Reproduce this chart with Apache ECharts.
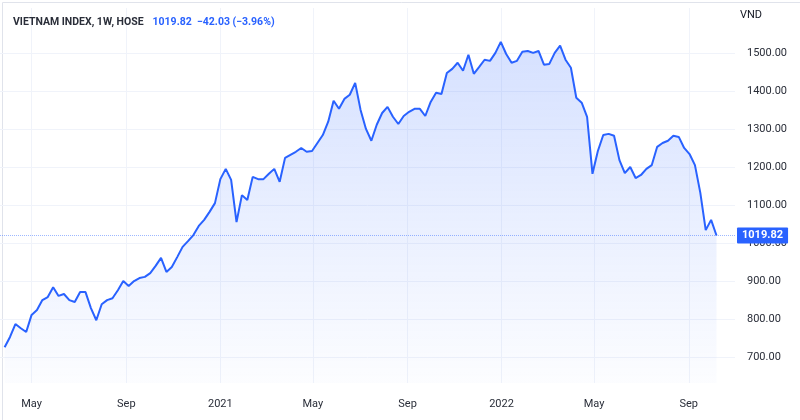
<!DOCTYPE html>
<html><head><meta charset="utf-8">
<script src="https://cdn.jsdelivr.net/npm/echarts@6/dist/echarts.min.js"></script>
<style>html,body{margin:0;padding:0;background:#fff}#c{width:800px;height:420px}</style>
</head><body><div id="c"></div>
<script>
const startDate = '2020-03-27';
const values = [726,753,787,776,766,811,824,850,858,884,861,866,850,845,871,871,829,797,839,850,855,876,900,887,900,908,911,921,940,961,924,937,963,990,1005,1021,1045,1061,
1082,1105,1168,1195,1166,1055,1126,1113,1174,1168,1168,1182,1195,1161,1224,1232,1240,1250,1240,1242,1263,1284,1319,1374,1353,1379,1390,1421,1350,1300,1269,1311,1342,1358,1332,1313,1334,1345,1353,1353,1334,1371,1395,
1392,1447,1458,1474,1453,1495,1445,1463,1482,1479,1500,1529,1497,1474,1479,1503,1505,1500,1505,1469,1471,1500,1519,1482,1461,1382,1369,1332,1182,1242,1284,1287,1282,1218,1184,1200,1171,1179,1195,1205,1253,1263,1269,1282,1279,1250,1234,1205,1132,1034,1061,1019.82];
const yTicks = [700,800,900,1000,1100,1200,1300,1400,1500];
const xTicks = ['2020-05-01','2020-09-01','2021-01-01','2021-05-01','2021-09-01','2022-01-01','2022-05-01','2022-09-01'];
const lastValue = 1019.82;

const t0 = new Date(startDate + 'T00:00:00Z').getTime();
const data = values.map((v,i)=>[t0 + i*7*86400000, v]);
const xTickTs = xTicks.map(d=>new Date(d+'T00:00:00Z').getTime());
const months = ['Jan','Feb','Mar','Apr','May','Jun','Jul','Aug','Sep','Oct','Nov','Dec'];
const blue = '#2962FF', txt = '#131722';
const chart = echarts.init(document.getElementById('c'));
chart.setOption({
  animation:false,
  textStyle:{fontFamily:'Roboto, "Noto Sans", sans-serif'},
  title:{left:8,top:8,text:'{a|VIETNAM INDEX, 1W, HOSE}  {b|1019.82  −42.03 (−3.96%)}',
    textStyle:{rich:{a:{fontSize:10.5,color:'#2a2e39',fontFamily:'Roboto'},b:{fontSize:10.5,color:blue,fontFamily:'Roboto'}}}},
  graphic:[{type:'text',right:38,top:10,style:{text:'VND',fontSize:11,fill:txt,fontFamily:'Roboto'}},
    {type:'rect',left:0,top:0,shape:{width:799,height:419},style:{fill:'none',stroke:'#e0e3eb',lineWidth:1},silent:true}],
  grid:{left:0,right:65,top:8,bottom:37},
  xAxis:{type:'value',min:new Date('2020-03-21T00:00:00Z').getTime(),max:new Date('2022-10-31T00:00:00Z').getTime(),
    axisLine:{show:false},axisTick:{show:false,customValues:xTickTs},
    splitLine:{show:true,lineStyle:{color:'#f0f3fa'}},
    axisLabel:{customValues:xTickTs,color:'#2a2e39',fontSize:11,margin:16,
      formatter:v=>{const d=new Date(v);return d.getUTCMonth()===0?String(d.getUTCFullYear()):months[d.getUTCMonth()];}}},
  yAxis:{type:'value',position:'right',min:632,max:1618,
    axisLine:{show:false},axisTick:{show:false,customValues:yTicks},
    splitLine:{show:true,lineStyle:{color:'#f0f3fa'}},
    axisLabel:{customValues:yTicks,color:'#2a2e39',fontSize:11,margin:12,formatter:v=>v.toFixed(2)}},
  series:[{type:'line',data:data,symbol:'none',lineStyle:{color:blue,width:2},
    areaStyle:{color:new echarts.graphic.LinearGradient(0,0,0,1,[{offset:0,color:'rgba(41,98,255,0.28)'},{offset:1,color:'rgba(41,98,255,0.02)'}])},
    markLine:{silent:true,symbol:'none',data:[{yAxis:lastValue}],
      lineStyle:{color:'rgba(41,98,255,0.45)',type:'dotted',width:1},
      label:{position:'end',formatter:'1019.82',color:'#fff',backgroundColor:blue,padding:[3,5,2,5],fontSize:11,fontWeight:'bold',distance:2,borderRadius:1}}}]
});
</script></body></html>
